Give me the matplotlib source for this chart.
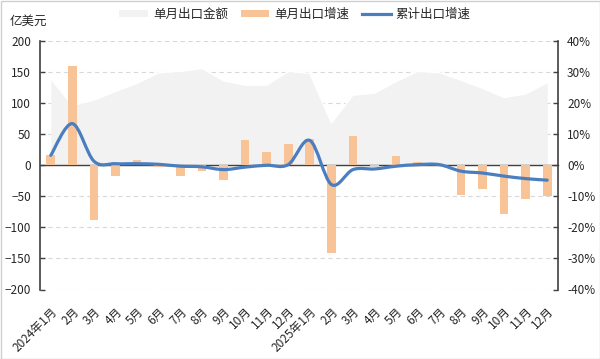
import numpy as np
import matplotlib
matplotlib.use('Agg')
import matplotlib.pyplot as plt
from matplotlib.path import Path
from matplotlib.patches import PathPatch, Patch, Rectangle
from matplotlib.lines import Line2D

plt.rcParams['font.family'] = ['Noto Sans CJK SC', 'DejaVu Sans']

months = ['2024年1月', '2月', '3月', '4月', '5月', '6月', '7月', '8月', '9月', '10月', '11月', '12月',
          '2025年1月', '2月', '3月', '4月', '5月', '6月', '7月', '8月', '9月', '10月', '11月', '12月']
export_amount = [139, 96, 105, 119, 132, 149, 151, 156, 136, 129, 129, 151,
                 148, 68, 113, 116, 135, 151, 149, 137, 124, 109, 115, 133]
monthly_growth = [3.2, 32.0, -17.5, -3.5, 1.8, -0.5, -3.5, -1.9, -4.9, 8.0, 4.2, 6.7,
                  8.3, -28.2, 9.3, -0.3, 3.1, 1.1, 0.3, -9.6, -7.6, -15.6, -10.8, -10.0]
cumulative_growth = [3.2, 13.4, 1.3, 0.5, 0.5, 0.3, -0.3, -0.5, -1.4, -0.6, 0.0, 0.2,
                     8.0, -6.2, -1.4, -1.2, -0.3, 0.2, 0.2, -1.9, -2.5, -3.5, -4.3, -4.8]

area_color = '#F2F2F2'
bar_color = '#F9C398'
line_color = '#4A7EBF'
axis_color = '#404040'
text_color = '#262626'


def smooth_path(xs, ys):
    pts = np.column_stack([xs, ys]).astype(float)
    n = len(pts)
    verts = [pts[0]]
    codes = [Path.MOVETO]
    for i in range(n - 1):
        p0 = pts[i - 1] if i > 0 else pts[i]
        p1 = pts[i]
        p2 = pts[i + 1]
        p3 = pts[i + 2] if i + 2 < n else pts[i + 1]
        c1 = p1 + (p2 - p0) / 6.0
        c2 = p2 - (p3 - p1) / 6.0
        verts += [c1, c2, p2]
        codes += [Path.CURVE4] * 3
    return Path(verts, codes)


fig = plt.figure(figsize=(6.0, 3.59), dpi=100)
ax = fig.add_axes([40 / 600, 1 - 289.5 / 359, 518 / 600, 248.5 / 359])
ax2 = ax.twinx()

x = np.arange(len(months))

# area (left axis)
ax.fill_between(x, 0, export_amount, color=area_color, lw=0, zorder=1)
ax.plot(x, export_amount, color='white', lw=1.0, zorder=1.1)

ax.set_xlim(-0.5, len(months) - 0.5)
ax.set_ylim(-200, 200)
ax.set_yticks(np.arange(-200, 201, 50))
ax.set_axisbelow(True)
ax.grid(axis='y', color='#D9D9D9', ls=(0, (4, 3)), lw=0.8)
ax.grid(axis='x', visible=False)

for s in ['top', 'right']:
    ax.spines[s].set_visible(False)
ax.spines['left'].set_color(axis_color)
ax.spines['left'].set_linewidth(1.2)
ax.spines['bottom'].set_position(('data', 0))
ax.spines['bottom'].set_color(axis_color)
ax.spines['bottom'].set_linewidth(1.0)

ax.set_xticks(x[:-1] + 0.5)
ax.tick_params(axis='x', direction='in', length=4.5, width=1.0, color=axis_color, labelbottom=False)
ax.tick_params(axis='y', direction='in', length=3.5, width=1.0, color=axis_color,
               labelsize=8.5, labelcolor=text_color, pad=6.5)

# category labels at the bottom
sec = ax.secondary_xaxis('bottom')
sec.set_xticks(x)
sec.set_xticklabels(months, rotation=45, ha='right', va='top', rotation_mode='anchor')
sec.tick_params(length=0, pad=11, labelsize=8.5, labelcolor=text_color)
sec.spines['bottom'].set_visible(False)

# bars and line (right axis)
ax2.bar(x, monthly_growth, width=0.4, color=bar_color, zorder=2)
path = smooth_path(x, cumulative_growth)
ax2.add_patch(PathPatch(path, fill=False, ec=line_color, lw=2.3, capstyle='round', joinstyle='round', zorder=3))

ax2.set_ylim(-40, 40)
ax2.set_yticks(np.arange(-40, 41, 10))
ax2.set_yticklabels([f'{v}%' for v in range(-40, 41, 10)])
for s in ['top', 'bottom', 'left']:
    ax2.spines[s].set_visible(False)
ax2.spines['right'].set_color(axis_color)
ax2.spines['right'].set_linewidth(1.2)
ax2.tick_params(axis='y', direction='in', length=3.5, width=1.0, color=axis_color,
                labelsize=8.5, labelcolor=text_color, pad=6.5)

fig.text(10 / 600, 1 - 21 / 359, '亿美元', ha='left', va='center', fontsize=9, color=text_color)

handles = [Patch(facecolor=area_color, edgecolor='none'),
           Patch(facecolor=bar_color, edgecolor='none'),
           Line2D([0], [0], color=line_color, lw=2.3)]
labels = ['单月出口金额', '单月出口增速', '累计出口增速']
fig.legend(handles, labels, loc='center', bbox_to_anchor=(295 / 600, 1 - 14 / 359), ncol=3,
           frameon=False, fontsize=9, handlelength=2.3, handleheight=0.5, handletextpad=0.4,
           columnspacing=1.0, labelcolor=text_color)

fig.patches.append(Rectangle((0.5 / 600, 0.5 / 359), 599 / 600, 358 / 359, transform=fig.transFigure,
                             fill=False, ec='#D0D0D0', lw=1.0))

fig.savefig('out.png', dpi=100)
